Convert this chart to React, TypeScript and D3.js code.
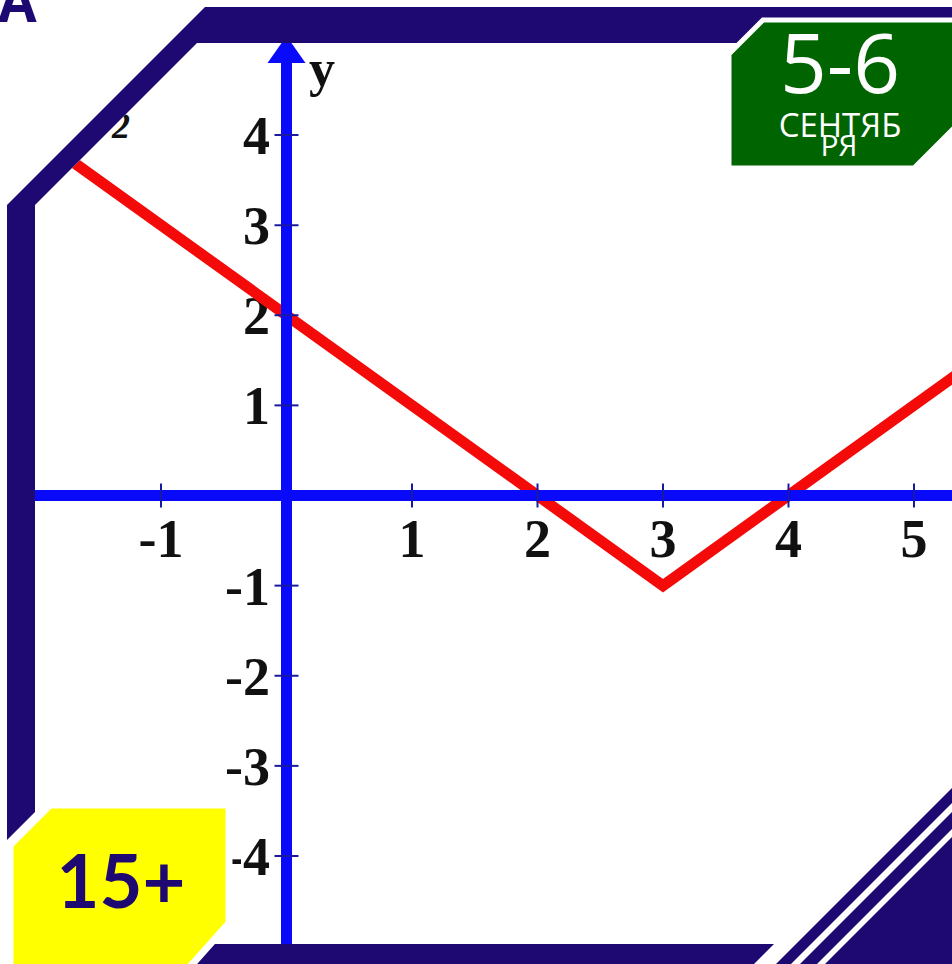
import React from "react";
import * as d3 from "d3";

// Data
const xTicks = [-1, 1, 2, 3, 4, 5];
const yTicks = [-4, -3, -2, -1, 1, 2, 3, 4];
const lineX = [-2, 3, 6];
const lineY = [4, -1, 2];
const badgeDate = "5-6";
const badgeMonth1 = "СЕНТЯБ";
const badgeMonth2 = "РЯ";
const badgeAge = "15+";

const W = 952;
const H = 964;
const NAVY = "#1e0872";

export default function App() {
  const x = d3.scaleLinear().domain([-1, 5]).range([161, 914]);
  const y = d3.scaleLinear().domain([-4, 4]).range([856, 135]);
  const x0 = x(0);
  const y0 = y(0);
  const pts: [number, number][] = lineX.map((v, i) => [v, lineY[i]]);
  const line = d3
    .line<[number, number]>()
    .x((d) => x(d[0]))
    .y((d) => y(d[1]));

  const poly = (p: number[][]) => p.map((q) => q.join(",")).join(" ");

  const stripe = (u1: number, u2: number) =>
    poly([
      [u1, H],
      [W, H - (W - u1)],
      [W, H - (W - u2)],
      [u2, H],
    ]);

  const serif = "'Liberation Serif', 'Times New Roman', serif";

  return (
    <svg
      width={W}
      height={H}
      viewBox={`0 0 ${W} ${H}`}
      style={{ position: "fixed", left: 0, top: 0, background: "#fff" }}
    >
      <defs>
        <clipPath id="inner">
          <polygon
            points={poly([
              [197, 43],
              [W, 43],
              [W, 944],
              [35, 944],
              [35, 205],
            ])}
          />
        </clipPath>
      </defs>
      <rect x={0} y={0} width={W} height={H} fill="#fff" />

      <g clipPath="url(#inner)">
        {/* partially hidden formula text */}
        <text
          x={112}
          y={138}
          fontFamily={serif}
          fontStyle="italic"
          fontWeight="bold"
          fontSize={36}
          fill="#111"
        >
          2
        </text>

        {/* tick labels */}
        {xTicks.map((t) => (
          <text
            key={"xl" + t}
            x={x(t)}
            y={557}
            textAnchor="middle"
            fontFamily={serif}
            fontWeight="bold"
            fontSize={54}
            fill="#111"
          >
            {t}
          </text>
        ))}
        {yTicks.map((t) => (
          <text
            key={"yl" + t}
            x={270}
            y={y(t) + 19}
            textAnchor="end"
            fontFamily={serif}
            fontWeight="bold"
            fontSize={54}
            fill="#111"
          >
            {t}
          </text>
        ))}
        <text
          x={309}
          y={86}
          fontFamily={serif}
          fontWeight="bold"
          fontSize={52}
          fill="#111"
        >
          y
        </text>

        {/* red function line */}
        <path
          d={line(pts) || ""}
          fill="none"
          stroke="#f50a0a"
          strokeWidth={11}
          strokeLinejoin="miter"
        />

        {/* axes */}
        <line x1={35} x2={W} y1={y0} y2={y0} stroke="#0a0afa" strokeWidth={11} />
        <line x1={x0} x2={x0} y1={55} y2={950} stroke="#0a0afa" strokeWidth={11} />
        <polygon
          points={poly([
            [x0, 36],
            [x0 - 19, 63],
            [x0 + 19, 63],
          ])}
          fill="#0a0afa"
        />
        {xTicks.map((t) => (
          <line
            key={"xt" + t}
            x1={x(t)}
            x2={x(t)}
            y1={y0 - 12}
            y2={y0 + 12}
            stroke="#1a1aa0"
            strokeWidth={2}
          />
        ))}
        {yTicks.map((t) => (
          <line
            key={"yt" + t}
            x1={x0 - 12}
            x2={x0 + 12}
            y1={y(t)}
            y2={y(t)}
            stroke="#1a1aa0"
            strokeWidth={2}
          />
        ))}
      </g>

      {/* frame */}
      <polygon
        points={poly([
          [W, 7],
          [205, 7],
          [7, 205],
          [7, 840],
          [35, 812],
          [35, 205],
          [197, 43],
          [W, 43],
        ])}
        fill={NAVY}
      />
      <polygon
        points={poly([
          [200, 944],
          [774, 944],
          [754, H],
          [180, H],
        ])}
        fill={NAVY}
      />
      <polygon points={stripe(776, 791)} fill={NAVY} />
      <polygon points={stripe(800, 817)} fill={NAVY} />
      <polygon
        points={poly([
          [825, H],
          [W, H - (W - 825)],
          [W, H],
        ])}
        fill={NAVY}
      />

      {/* green date badge */}
      <polygon
        points={poly([
          [763, 20],
          [W + 5, 20],
          [W + 5, 125],
          [914, 168],
          [729, 168],
          [729, 54],
        ])}
        fill="#006400"
        stroke="#fff"
        strokeWidth={5}
        strokeLinejoin="miter"
      />
      <text
        x={840}
        y={93}
        textAnchor="middle"
        fontFamily="'Open Sans', sans-serif"
        fontSize={82}
        fill="#fff"
      >
        {badgeDate}
      </text>
      <text
        x={840}
        y={137}
        textAnchor="middle"
        fontFamily="'Open Sans', sans-serif"
        fontSize={33}
        fill="#fff"
      >
        {badgeMonth1}
      </text>
      <text
        x={839}
        y={156}
        textAnchor="middle"
        fontFamily="'Open Sans', sans-serif"
        fontSize={30}
        fill="#fff"
      >
        {badgeMonth2}
      </text>

      {/* yellow age badge */}
      <polygon
        points={poly([
          [50, 805],
          [229, 805],
          [229, 923],
          [188, H + 5],
          [10, H + 5],
          [10, 845],
        ])}
        fill="#ffff00"
        stroke="#fff"
        strokeWidth={7}
        strokeLinejoin="miter"
      />
      <text
        x={121}
        y={908}
        textAnchor="middle"
        fontFamily="Lato, 'Open Sans', sans-serif"
        fontWeight="bold"
        fontSize={74}
        fill={NAVY}
      >
        {badgeAge}
      </text>

      {/* cut-off letter at top-left */}
      <text
        x={-2}
        y={22}
        fontFamily="'Open Sans', sans-serif"
        fontWeight="bold"
        fontSize={56}
        fill={NAVY}
      >
        A
      </text>
    </svg>
  );
}
